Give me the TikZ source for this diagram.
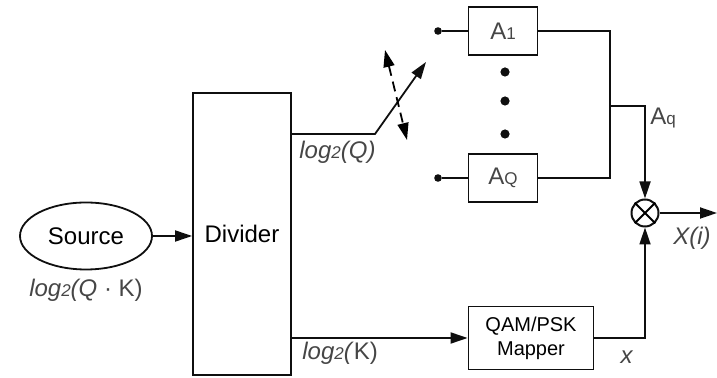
\documentclass[tikz,border=0pt]{standalone}
\usepackage{fontspec}
\setmainfont{Liberation Sans}
\usetikzlibrary{arrows.meta,positioning,shapes.geometric}
\definecolor{ink}{RGB}{15,15,15}
\definecolor{soft}{RGB}{70,70,70}
\tikzset{
  box/.style={draw=ink,line width=0.9pt,inner sep=2pt,align=center,
    font=\fontsize{12}{14}\selectfont},
  amp/.style={box,minimum width=34.5pt,minimum height=24pt,text=soft},
  arr/.style={-{Triangle[length=8.5pt,width=5.5pt]},line width=0.9pt,draw=ink},
  swing/.style={{Triangle[length=8.5pt,width=5.5pt]}-{Triangle[length=8.5pt,width=5.5pt]},
    line width=0.9pt,dash pattern=on 5pt off 3pt},
  wire/.style={line width=0.9pt,draw=ink},
  lbl/.style={font=\fontsize{12}{14}\selectfont,text=soft,inner sep=1pt},
  term/.style={circle,fill=ink,inner sep=0pt,minimum size=3.8pt},
}
\newcommand{\sm}[1]{{\fontsize{8.5}{10}\selectfont #1}}

\begin{document}
\begin{tikzpicture}[x=0.5pt,y=-0.5pt,node distance=4pt]
  \useasboundingbox (0,0) rectangle (717,378);

  % source and divider
  \node[box,ellipse,minimum width=66pt,minimum height=33.5pt] (src) at (86,236) {Source};
  \node[lbl,below=3pt of src] (srclbl) {\textit{log\sm{2}(Q} · K)};
  \node[box,minimum width=49pt,minimum height=141pt] (divider) at (242,234) {Divider};
  \draw[arr] (src) -- (divider.west |- src);

  % amplitude branch with the selector switch
  \coordinate (bend) at (375,134);
  \coordinate (swtip) at (426,62);
  \coordinate (dsA) at (385,50);
  \coordinate (dsB) at (407,140);
  \draw[arr] (divider.east |- bend) -- (bend) -- (swtip);
  \draw[swing] (dsA) -- (dsB);
  \node[lbl,anchor=west] (qlbl) at (297,152) {\textit{log\sm{2}(Q)}};

  \node[amp] (amp1) at (503,31) {A\sm{1}};
  \node[amp] (ampQ) at (503,178) {A\sm{Q}};
  \node[term] (t1) at (438,31) {};
  \node[term] (tQ) at (438,178) {};
  \draw[wire] (t1) -- (amp1);
  \draw[wire] (tQ) -- (ampQ);
  \foreach \y in {72,101,134}
    \fill[ink] (505,\y) circle (2.3pt);

  \coordinate (bus) at (610,106);
  \draw[wire] (amp1.east) -| (bus) |- (ampQ.east);

  % mapper branch
  \node[box,minimum width=62.5pt,minimum height=31.5pt,
    font=\fontsize{10}{12}\selectfont] (mapper) at (531,338) {QAM/PSK\\Mapper};
  \draw[arr] (divider.east |- mapper) -- (mapper);
  \node[lbl,anchor=west] (klbl) at (300,353) {\textit{log\sm{2}(}K)};

  % product
  \node[circle,draw=ink,line width=1pt,minimum size=13.5pt,inner sep=0pt] (mult) at (645,213) {};
  \draw[line width=1pt] (mult.45) -- (mult.225) (mult.135) -- (mult.-45);
  \draw[arr] (bus) -| (mult);
  \draw[arr] (mapper.east) -| (mult);
  \node[lbl,anchor=west] (aqlbl) at (648,118) {A\sm{q}};
  \node[lbl] (xlbl) at (627,357) {\textit{x}};

  \coordinate (out) at (717,213);
  \draw[arr] (mult) -- (out);
  \node[lbl] (outlbl) at (692,238) {\textit{X(i)}};
\end{tikzpicture}
\end{document}
